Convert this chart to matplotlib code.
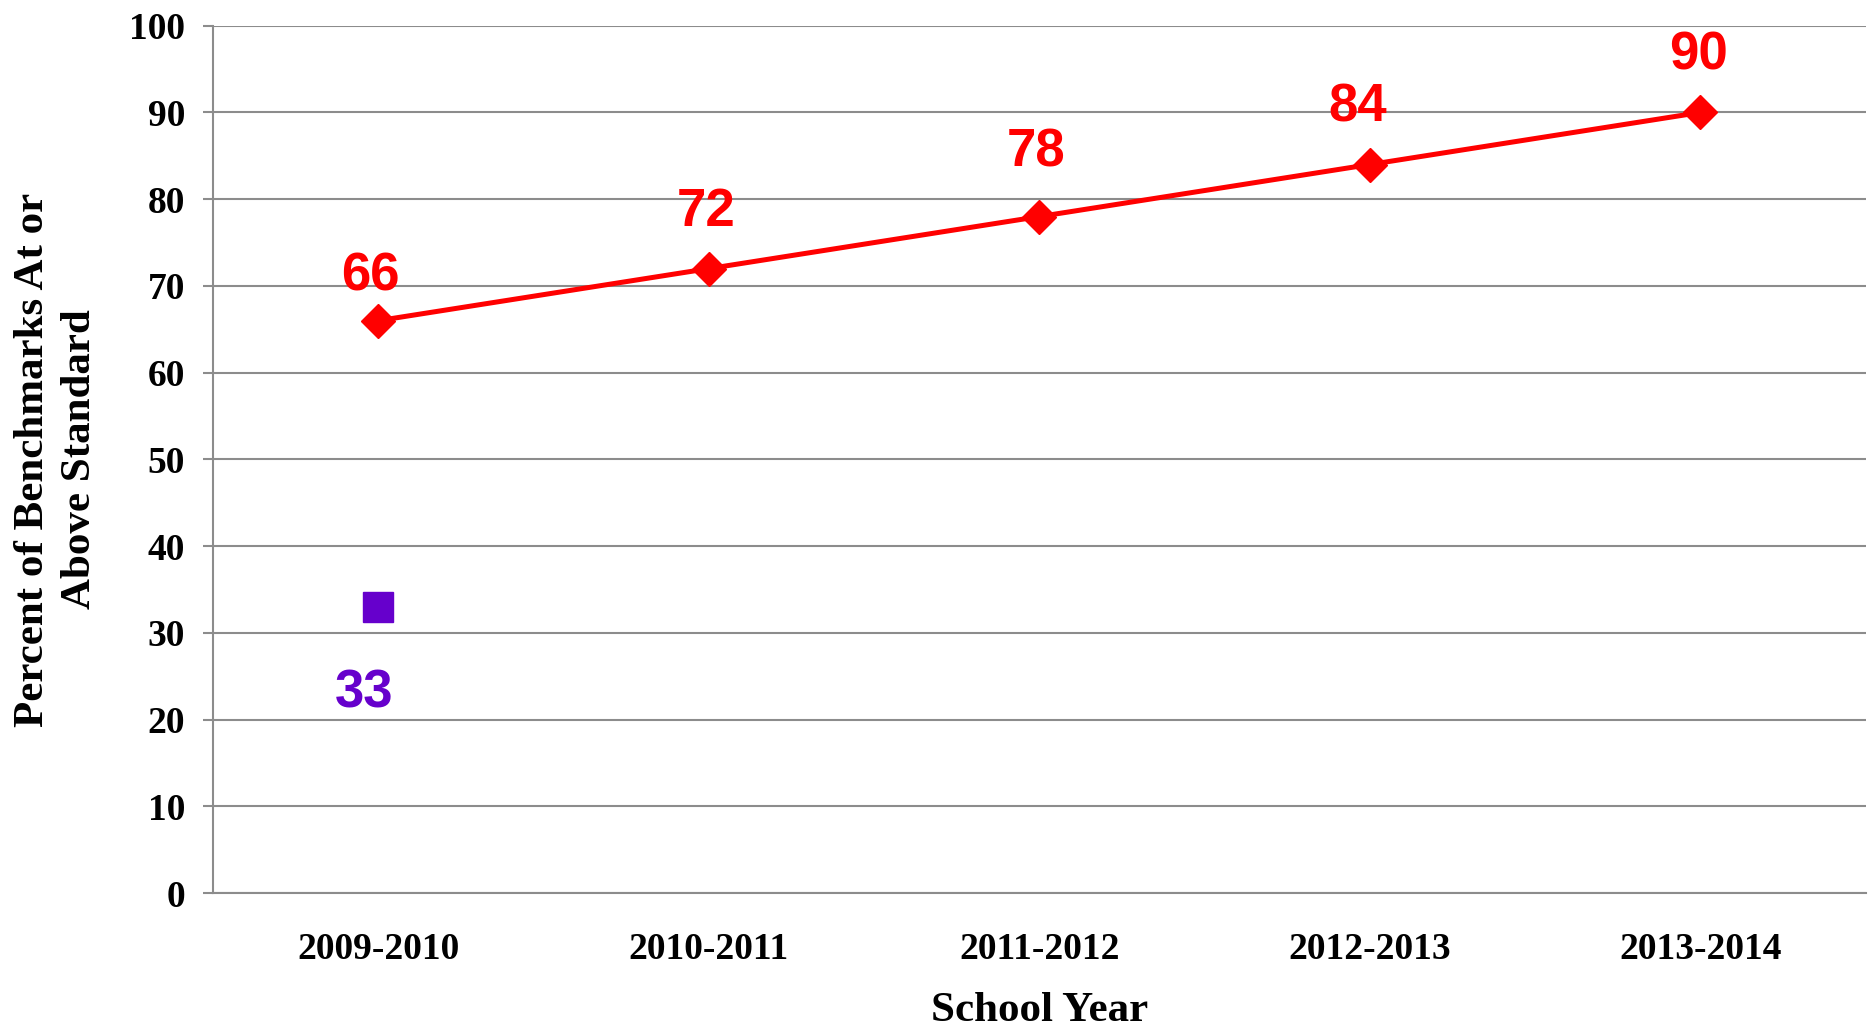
#!/usr/bin/env python3
import matplotlib
matplotlib.use("Agg")
import matplotlib.pyplot as plt

years = ["2009-2010", "2010-2011", "2011-2012", "2012-2013", "2013-2014"]
target_pct = [66, 72, 78, 84, 90]
actual_years = ["2009-2010"]
actual_pct = [33]

# nudges for the data labels, in points
label_dx = [-6, -2, -2, -9, -1]
label_dy = [32, 41, 46, 41, 41]

serif = ["Liberation Serif", "DejaVu Serif"]
sans = ["Liberation Sans", "DejaVu Sans"]
grid_color = "#8c8c8c"

fig = plt.figure(figsize=(18.75, 10.29), dpi=100)
ax = fig.add_axes([0.1136, 0.132, 0.8814, 0.843])

xs = list(range(len(years)))
ax.plot(xs, target_pct, color="#ff0000", lw=3.6, marker="D", markersize=17, zorder=3)
ax_x = [years.index(y) for y in actual_years]
ax.plot(ax_x, actual_pct, ls="none", color="#6600cc", marker="s", markersize=22, zorder=3)

for x, v, dx, dy in zip(xs, target_pct, label_dx, label_dy):
    ax.annotate(str(v), (x, v), xytext=(dx, dy), textcoords="offset points",
                ha="center", va="center", color="#ff0000", fontsize=38,
                fontweight="bold", family=sans)
for x, v in zip(ax_x, actual_pct):
    ax.annotate(str(v), (x, v), xytext=(-10, -62), textcoords="offset points",
                ha="center", va="center", color="#6600cc", fontsize=38,
                fontweight="bold", family=sans)

ax.set_xlim(-0.5, len(years) - 0.5)
ax.set_ylim(0, 100)
ax.set_yticks(range(0, 101, 10))
ax.set_xticks(xs)
ax.set_xticklabels(years)
ax.yaxis.grid(True, color=grid_color, lw=1.5)
ax.set_axisbelow(True)
for s in ["top", "right"]:
    ax.spines[s].set_visible(False)
for s in ["left", "bottom"]:
    ax.spines[s].set_color(grid_color)
    ax.spines[s].set_linewidth(1.5)
ax.tick_params(axis="y", length=7, width=1.5, color=grid_color, pad=13)
ax.tick_params(axis="x", length=0, pad=28)
for lab in ax.get_xticklabels() + ax.get_yticklabels():
    lab.set_family(serif)
    lab.set_fontweight("bold")
    lab.set_fontsize(27)

ax.set_xlabel("School Year", family=serif, fontweight="bold", fontsize=31, labelpad=18)
ax.set_ylabel("Percent of Benchmarks At or\nAbove Standard", family=serif,
              fontweight="bold", fontsize=31, labelpad=22, linespacing=1.3)

fig.savefig("out.png", dpi=100)
